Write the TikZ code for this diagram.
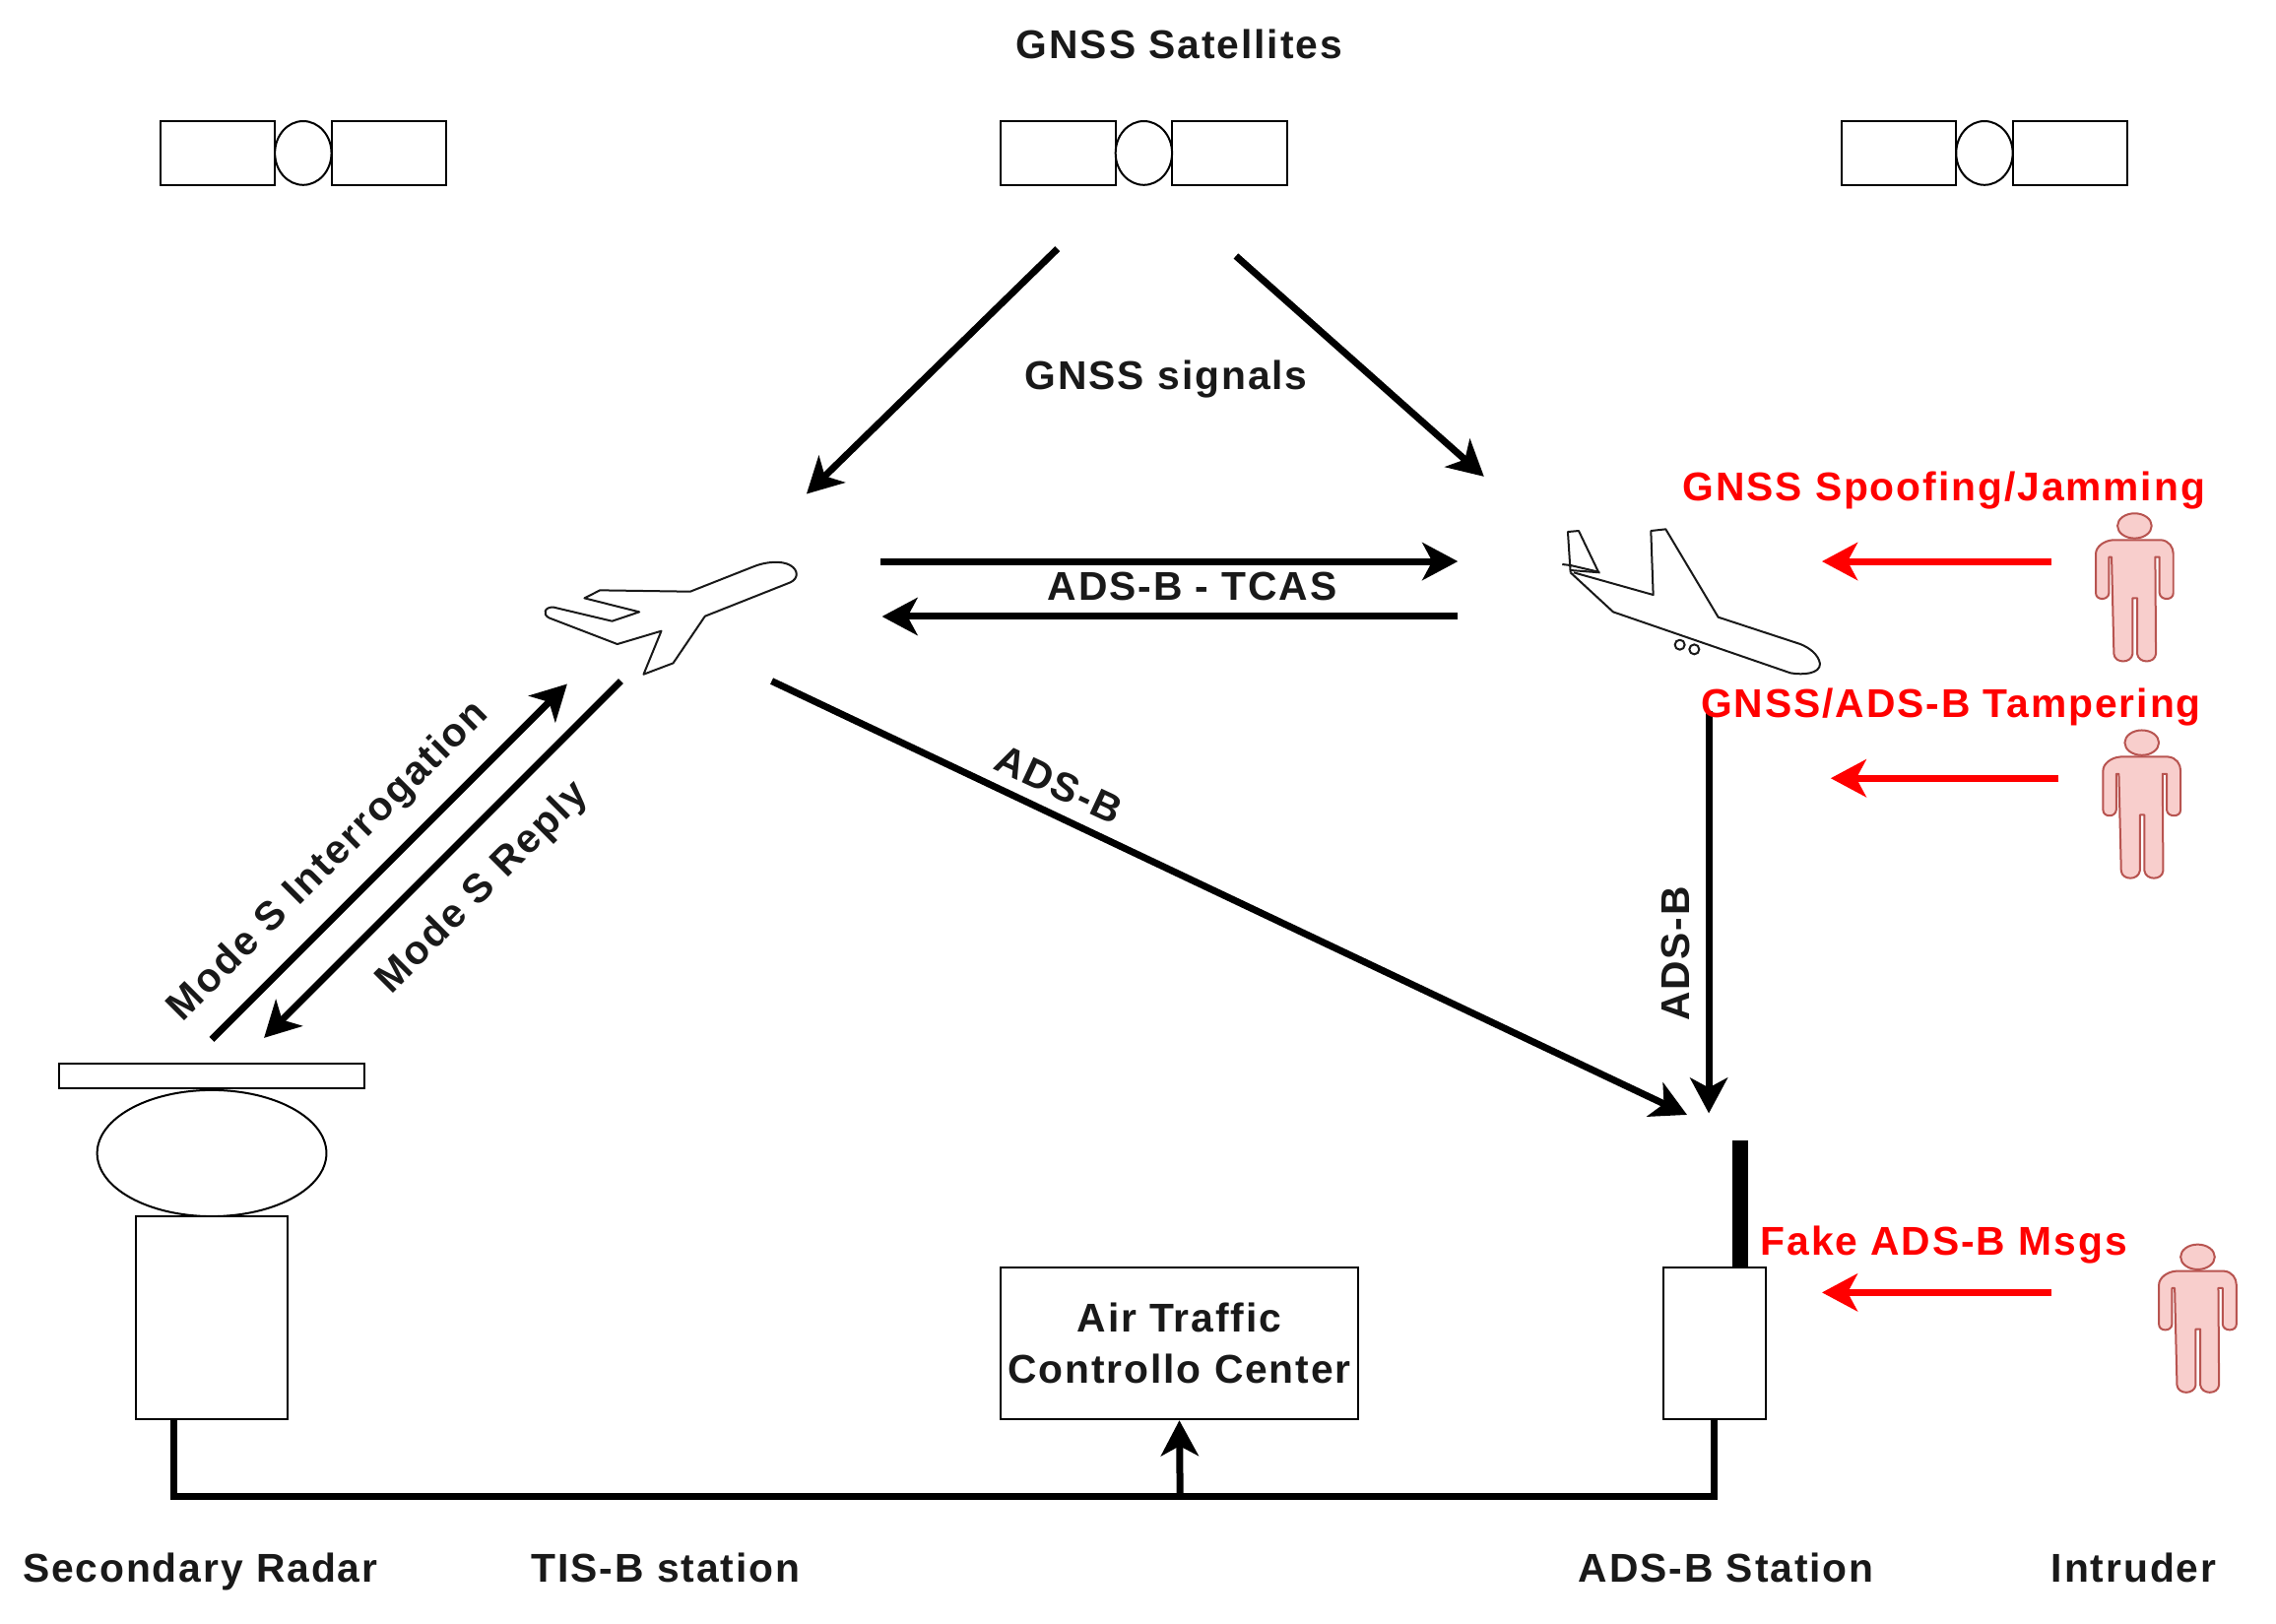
\documentclass[tikz,border=0pt]{standalone}
\usepackage{fontspec}
\setmainfont[LetterSpace=4.7]{Liberation Sans}
\usetikzlibrary{calc,shapes.geometric,arrows.meta}
\tikzset{
    lbl/.style={font=\fontsize{20.4}{26}\selectfont\bfseries, text=black!90, inner sep=0pt, align=center, text height=14.6pt, text depth=0pt},
    redlbl/.style={lbl, text=red},
    box/.style={rectangle, draw=black, line width=1pt, fill=white, inner sep=0pt},
    round/.style={ellipse, draw=black, line width=1pt, fill=white, inner sep=0pt},
    link/.style={line width=3.5pt, -{Stealth[length=18pt,width=19pt,inset=5pt]}},
    attack/.style={link, draw=red},
    bus/.style={line width=3.5pt},
    outline/.style={draw=black!90, line width=1pt, line join=round},
    person/.pic={
        \begin{scope}[x=0.1667pt, y=-0.1667pt, draw=personline, fill=personfill, line width=1pt, line join=round]
            \filldraw (0,0) ellipse [x radius=52, y radius=38];
            \filldraw (-65,43) -- (80,43) .. controls (105,45) and (118,65) .. (118,85)
                -- (118,205) .. controls (118,228) and (78,228) .. (76,205)
                -- (76,95) -- (63,95) -- (65,390) .. controls (62,420) and (12,420) .. (8,390)
                -- (8,220) -- (-6,220) -- (-6,390) .. controls (-10,420) and (-60,420) .. (-63,390)
                -- (-70,95) -- (-78,95) -- (-78,205) .. controls (-80,228) and (-118,228) .. (-118,205)
                -- (-118,85) .. controls (-118,65) and (-95,45) .. (-65,43) -- cycle;
        \end{scope}
    }
}
\definecolor{personfill}{HTML}{F8CECC}
\definecolor{personline}{HTML}{B85450}
\begin{document}
\begin{tikzpicture}[x=0.7365pt, y=-0.7365pt]
    \useasboundingbox (-1,-0.5) rectangle (1568,1119);
    \fill[white] (-1,-0.5) rectangle (1568,1119);

    % Satellites
    \foreach \n/\cx in {a/208, b/787.5, c/1367} {
        \node[box, minimum width=58.2pt, minimum height=32.4pt] (sat\n l) at (\cx-59,105) {};
        \node[box, minimum width=58.2pt, minimum height=32.4pt] (sat\n r) at (\cx+59,105) {};
        \node[round, minimum width=28.7pt, minimum height=32.4pt] (sat\n) at (\cx,105) {};
    }

    % Radar
    \node[box, minimum width=155.4pt, minimum height=12.5pt] (plate) at (145,741.5) {};
    \node[round, minimum width=116.4pt, minimum height=64.1pt] (dish) at (145,794.5) {};
    \node[box, minimum width=77.3pt, minimum height=103.1pt] (radar) at (145,908) {};

    % Ground boxes
    \node[box, lbl, text height=, text depth=, minimum width=181.2pt, minimum height=77.3pt] (atc) at (812,925.5) {Air Traffic\\Controllo Center};
    \coordinate (antennatop) at (1198.5,786);
    \draw[line width=8pt] (antennatop) -- (1198.5,873);
    \node[box, minimum width=51.6pt, minimum height=77.3pt] (station) at (1181,925.5) {};

    % Aircraft
    \begin{scope}[shift={(339,353)}, x=0.1667pt, y=-0.1667pt]
        \draw[outline] (600,240) -- (790,165) .. controls (830,148) and (880,145) .. (905,160)
            .. controls (930,175) and (930,200) .. (905,212) -- (645,315) -- (548,458) -- (458,492)
            -- (512,360) -- (378,400) -- (170,320) .. controls (150,310) and (155,285) .. (185,288)
            -- (362,330) -- (445,302) -- (278,260) -- (325,236) -- cycle;
    \end{scope}
    \begin{scope}[shift={(1059,346.2)}, x=0.1667pt, y=-0.1667pt]
        \draw[outline] (100,212) -- (230,332) -- (770,518) .. controls (810,525) and (860,520) .. (860,490)
            .. controls (855,460) and (825,440) .. (800,430) -- (550,348) -- (390,80) -- (345,85)
            -- (352,280) -- (110,212);
        \draw[outline] (100,212) -- (92,88) -- (125,85) -- (185,210) -- (100,190) -- (75,187);
        \draw[outline] (100,205) -- (190,212);
        \draw[outline] (433,432) circle [radius=15];
        \draw[outline] (477,446) circle [radius=15];
    \end{scope}

    % Persons
    \pic at (1470.5,362) {person};
    \pic at (1475.5,511.5) {person};
    \pic at (1514,866) {person};

    % Free ends of the radio links
    \coordinate (gnssA) at (728,171);
    \coordinate (gnssB) at (851,176);
    \coordinate (planeL) at (555,340);
    \coordinate (planeR) at (1022,328);
    \coordinate (txR) at (606,386.5);
    \coordinate (rxR) at (1004,386.5);
    \coordinate (txL) at (1004,424.5);
    \coordinate (rxL) at (607,424.5);
    \coordinate (intA) at (145,716);
    \coordinate (intB) at (390,471);
    \coordinate (repA) at (427,469);
    \coordinate (repB) at (181,715);
    \coordinate (adsA) at (531,469);
    \coordinate (adsB) at (1162,768);
    \coordinate (adsC) at (1177,490);
    \coordinate (adsD) at (1177,767);
    \coordinate (spA) at (1413,386.5);
    \coordinate (spB) at (1255,386.5);
    \coordinate (taA) at (1418,536);
    \coordinate (taB) at (1261,536);
    \coordinate (faA) at (1413,890.5);
    \coordinate (faB) at (1255,890.5);

    \draw[link] (gnssA) -- (planeL);
    \draw[link] (gnssB) -- (planeR);
    \draw[link] (txR) -- (rxR);
    \draw[link] (txL) -- (rxL);
    \draw[link] (intA) -- (intB);
    \draw[link] (repA) -- (repB);
    \draw[link] (adsA) -- (adsB);
    \draw[link] (adsC) -- (adsD);
    \draw[attack] (spA) -- (spB);
    \draw[attack] (taA) -- (taB);
    \draw[attack] (faA) -- (faB);

    % Ground bus
    \coordinate (busjoin) at (812.5,1031);
    \draw[bus] ($(radar.south)+(-26,0)$) |- (station.south |- busjoin) -- (station.south);
    \draw[link] (busjoin) -- (atc.south);

    % Labels
    \node[lbl] (title) at (812,30) {GNSS Satellites};
    \node[lbl] (signals) at (803,258) {GNSS signals};
    \node[lbl] (tcas) at (821,403.5) {ADS-B - TCAS};
    \node[redlbl] (spoof) at (1339,335) {GNSS Spoofing/Jamming};
    \node[redlbl] (tamper) at (1344,484.5) {GNSS/ADS-B Tampering};
    \node[redlbl] (fake) at (1339,855) {Fake ADS-B Msgs};
    \node[lbl, rotate=45] (modei) at (224,591.5) {Mode S Interrogation};
    \node[lbl, rotate=45] (moder) at (330,610) {Mode S Reply};
    \node[lbl, rotate=-25] (adsdiag) at (729,540) {ADS-B};
    \node[lbl, rotate=90] (adsvert) at (1154,657) {ADS-B};
    \node[lbl] (lradar) at (137,1080) {Secondary Radar};
    \node[lbl] (ltis) at (458,1080) {TIS-B station};
    \node[lbl] (lads) at (1189,1080) {ADS-B Station};
    \node[lbl] (lintr) at (1470,1080) {Intruder};
\end{tikzpicture}
\end{document}
